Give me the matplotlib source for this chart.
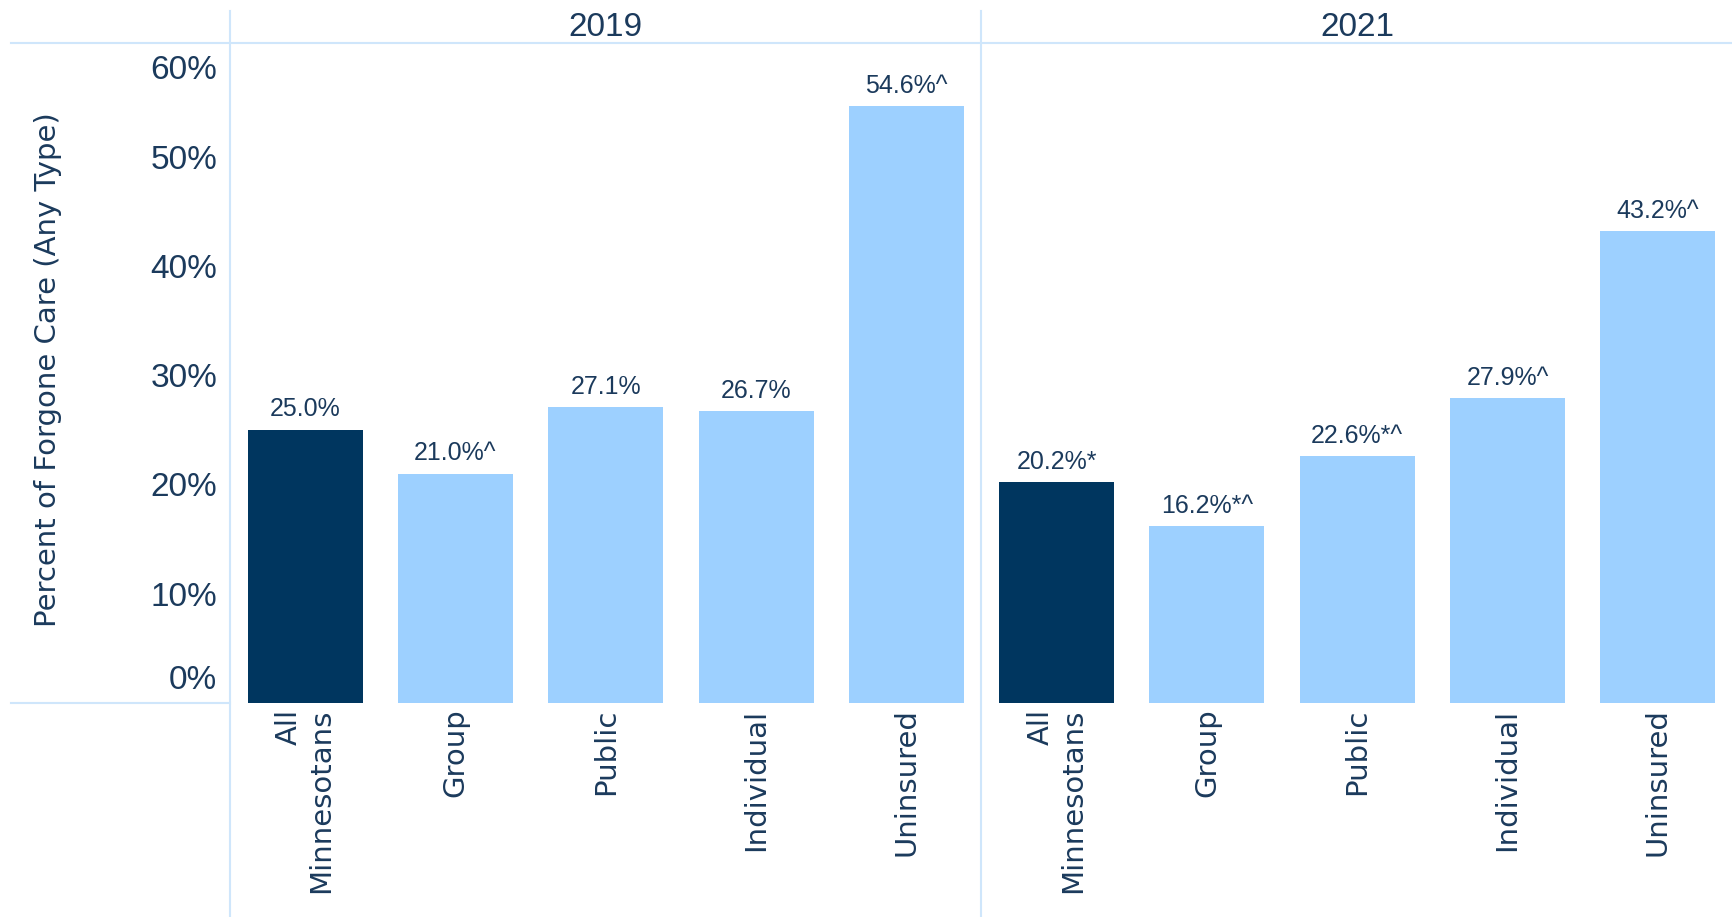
import matplotlib.pyplot as plt
import numpy as np
from matplotlib.lines import Line2D
import matplotlib.transforms as mtransforms

years = ['2019', '2021']
categories = ['All\nMinnesotans', 'Group', 'Public', 'Individual', 'Uninsured']
values_2019 = [25.0, 21.0, 27.1, 26.7, 54.6]
values_2021 = [20.2, 16.2, 22.6, 27.9, 43.2]
labels_2019 = ['25.0%', '21.0%^', '27.1%', '26.7%', '54.6%^']
labels_2021 = ['20.2%*', '16.2%*^', '22.6%*^', '27.9%^', '43.2%^']
y_ticks = [0, 10, 20, 30, 40, 50, 60]

DARK = '#00365f'
LIGHT = '#9dd0ff'
TEXT = '#1b3a5c'
GRID = '#cfe6fb'
NARROW = ['Liberation Sans Narrow', 'Liberation Sans', 'DejaVu Sans']

fig = plt.figure(figsize=(17.33, 9.17), dpi=100)
W, H = 1733, 917
ax = fig.add_axes([230 / W, 1 - 703 / H, 1503 / W, 660 / H])

values = values_2019 + values_2021
labels = labels_2019 + labels_2021
x = np.arange(len(values)) + 0.5
colors = [DARK if i % len(categories) == 0 else LIGHT for i in range(len(values))]
bars = ax.bar(x, values, width=0.765, color=colors, zorder=2)

for xi, v, lab in zip(x, values, labels):
    ax.annotate(lab, (xi, v), textcoords='offset points', xytext=(0, 6),
                ha='center', va='bottom', fontsize=18, color=TEXT, family=NARROW)

ax.set_xlim(0, 10)
ax.set_ylim(0, 60.4)
ax.set_xticks(x)
ax.set_xticklabels(categories * 2, rotation=90, fontsize=21, color=TEXT,
                   family='DejaVu Sans', va='top', ha='center', multialignment='right')
ax.set_yticks(y_ticks)
ax.set_yticklabels([f'{t}%' for t in y_ticks], fontsize=24, color=TEXT, family=NARROW)
ax.tick_params(axis='both', length=0)
ax.tick_params(axis='y', pad=9)
ax.tick_params(axis='x', pad=4)
# Excel pushes the end labels inside the plot area
ylabs = ax.get_yticklabels()
ylabs[0].set_va('bottom')
ylabs[0].set_transform(ylabs[0].get_transform() +
                       mtransforms.ScaledTranslation(0, 0.07, fig.dpi_scale_trans))
ylabs[-1].set_va('top')
ylabs[-1].set_transform(ylabs[-1].get_transform() +
                        mtransforms.ScaledTranslation(0, -0.08, fig.dpi_scale_trans))
for s in ax.spines.values():
    s.set_visible(False)

ax.set_ylabel('Percent of Forgone Care (Any Type)', fontsize=21, color=TEXT,
              family='DejaVu Sans')
ax.yaxis.set_label_coords((62 - 230) / 1503, (703 - 370) / 660)

# panel headers
trans = mtransforms.blended_transform_factory(ax.transData, ax.transAxes)
for i, yr in enumerate(years):
    ax.text(i * 5 + 2.5, 1 + 15.5 / 660, yr, transform=trans, ha='center', va='center',
            fontsize=24, color=TEXT, family=NARROW)

# divider lines
y_top = (703 - 11) / 660
y_bot = (703 - 917) / 660
for xd in [0, 5]:
    ax.add_line(Line2D([xd, xd], [y_bot, y_top], transform=trans, color=GRID,
                       lw=1.5, clip_on=False))
x_left = (11 - 230) / 1503
ax.add_line(Line2D([x_left, 1], [1, 1], transform=ax.transAxes, color=GRID,
                   lw=1.5, clip_on=False))
ax.add_line(Line2D([x_left, 0], [0, 0], transform=ax.transAxes, color=GRID,
                   lw=1.5, clip_on=False))

fig.savefig('out.png', dpi=100)
